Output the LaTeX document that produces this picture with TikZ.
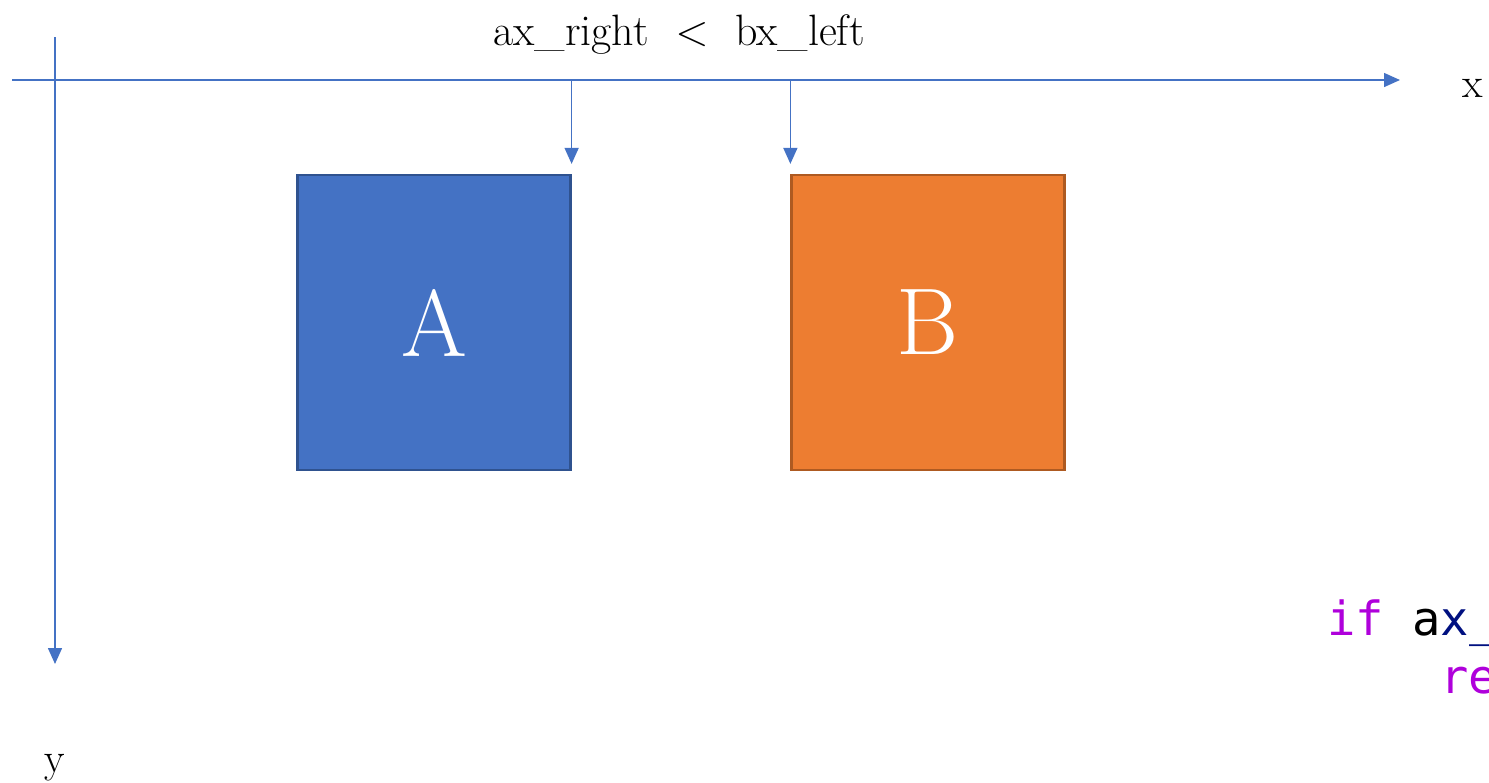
\documentclass[tikz,border=0pt]{standalone}
\usepackage{fontspec}
\setmonofont{DejaVu Sans Mono}
\usepackage{tikz}
\usetikzlibrary{arrows.meta,positioning,calc}

\definecolor{axisblue}{HTML}{4472C4}
\definecolor{boxblue}{HTML}{4472C4}
\definecolor{edgeblue}{HTML}{2F528F}
\definecolor{boxorange}{HTML}{ED7D31}
\definecolor{edgeorange}{HTML}{AE5A21}
\definecolor{kwpurple}{HTML}{AF00DB}
\definecolor{varnavy}{HTML}{001080}

\tikzset{
  axisarrow/.style={axisblue, line width=0.85pt, -{Triangle[length=3.2mm,width=2.8mm]}},
  rectbox/.style={draw, line width=1.3pt, minimum width=5.46cm, minimum height=5.9cm,
    inner sep=0pt, text=white, font=\fontsize{54}{60}\selectfont},
  lbl/.style={font=\fontsize{24}{28}\selectfont},
  code/.style={font=\ttfamily\fontsize{26.8}{30}\selectfont, anchor=base west, inner sep=0pt}
}

\begin{document}
\begin{tikzpicture}[x=0.02cm, y=-0.02cm]
\useasboundingbox (0,0) rectangle (1489,782);
% axes
\coordinate (xstart) at (12,80);
\coordinate (xend) at (1400,80);
\coordinate (ystart) at (55,37);
\coordinate (yend) at (55,664);
\draw[axisarrow] (xstart) -- (xend);
\draw[axisarrow] (ystart) -- (yend);
\node[lbl, anchor=base] (xlabel) at (1473,97) {x};
\node[lbl, anchor=base] (ylabel) at (55,772) {y};
% boxes
\node[rectbox, fill=boxblue, draw=edgeblue] (boxA) at (434,322.5) {A};
\node[rectbox, fill=boxorange, draw=edgeorange] (boxB) at (928,322.5) {B};
% edges
\coordinate (axright) at (boxA.north east |- xstart);
\coordinate (bxleft) at (boxB.north west |- xstart);
\draw[axisarrow, shorten >=10*0.02cm] (axright) -- (boxA.north east);
\draw[axisarrow, shorten >=10*0.02cm] (bxleft) -- (boxB.north west);
\node[lbl, anchor=base, font=\fontsize{25}{29}\selectfont] (cond) at (679,45) {ax\_right \ $<$ \ bx\_left};
% code
\node[code] (code1) at (1327,635) {\textcolor{kwpurple}{if} a\textcolor{varnavy}{x\_right}};
\node[code] (code2) at (1440,693) {\textcolor{kwpurple}{return}};
\end{tikzpicture}
\end{document}
